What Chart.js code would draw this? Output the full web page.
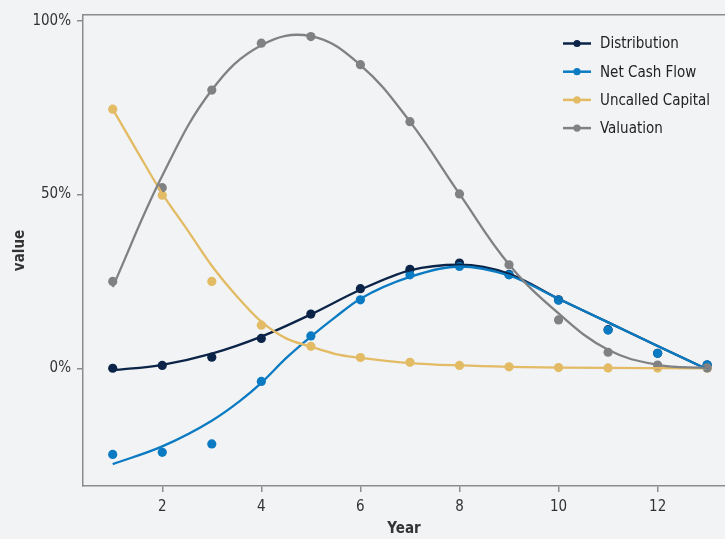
<!DOCTYPE html>
<html>
<head>
<meta charset="utf-8">
<script src="https://cdn.jsdelivr.net/npm/chart.js@4.4.1/dist/chart.umd.min.js"></script>
<style>
  html, body { margin: 0; padding: 0; background: #f2f3f5; }
  #wrap { width: 725px; height: 539px; position: relative; }
</style>
</head>
<body>
<div id="wrap"><canvas id="c"></canvas></div>
<script>
// ---- data (values in %) ----
const years = [1, 2, 3, 4, 5, 6, 7, 8, 9, 10, 11, 12, 13];
const seriesNames = ['Distribution', 'Net Cash Flow', 'Uncalled Capital', 'Valuation'];
// observed points
const distributionPts = [0, 0.8, 3.2, 8.6, 15.6, 22.9, 28.5, 30.3, 27.0, 19.7, 11.1, 4.3, 0.9];
const netCashFlowPts = [-24.8, -24.2, -21.8, -3.8, 9.3, 19.7, 26.9, 29.3, 26.9, 19.6, 11.0, 4.3, 1.0];
const uncalledPts = [74.6, 49.8, 25.0, 12.4, 6.3, 3.1, 1.7, 0.8, 0.4, 0.2, 0.1, 0.05, 0];
const valuationPts = [25.0, 52.0, 80.1, 93.6, 95.5, 87.4, 71.0, 50.2, 29.8, 13.9, 4.6, 0.9, 0.1];
// smoothed (fitted) curves
const distributionFitX = [1, 2, 3, 4, 5, 6, 7, 8, 9, 10, 11, 12, 13];
const distributionFit = [-0.6, 1.0, 4.2, 9.1, 15.5, 22.6, 28.2, 29.8, 27.2, 20.0, 13.2, 6.4, -0.3];
const netCashFlowFitX = [1, 2, 3, 3.57, 4, 4.5, 5, 5.5, 6, 7, 8, 9, 10, 11, 12, 13];
const netCashFlowFit = [-27.6, -22.5, -15.1, -9.4, -4.2, 2.9, 9.1, 14.8, 20.0, 26.3, 29.3, 26.7, 20.0, 13.2, 6.4, -0.3];
const uncalledFitX = [1, 1.5, 2, 2.5, 3, 3.5, 4, 4.5, 5, 5.5, 6, 7, 8, 9, 10, 11, 12, 13];
const uncalledFit = [74.6, 62.3, 50.3, 40.0, 29.5, 20.8, 13.4, 8.6, 6.2, 4.1, 3.0, 1.5, 0.8, 0.4, 0.2, 0.1, 0.05, 0];
const valuationFitX = [1, 2, 3, 4, 5, 6, 7, 8, 9, 10, 11, 12, 13];
const valuationFit = [23.4, 55.4, 80.1, 93.0, 95.6, 87.3, 71.0, 50.2, 29.9, 15.8, 5.3, 1.0, 0.1];
const xTicks = [2, 4, 6, 8, 10, 12];
const yTicks = [0, 50, 100];

const colors = ['#0b2447', '#0a7bc2', '#e2bb64', '#808183'];
const ptsList = [distributionPts, netCashFlowPts, uncalledPts, valuationPts];
const fitXList = [distributionFitX, netCashFlowFitX, uncalledFitX, valuationFitX];
const fitList = [distributionFit, netCashFlowFit, uncalledFit, valuationFit];
const interpModes = ['monotone', 'monotone', 'monotone', 'default'];

const FONT = "'DejaVu Sans Condensed', 'Liberation Sans Narrow', sans-serif";
const AXIS = '#8c8c8c';

const datasets = [];
for (let i = 0; i < 4; i++) {
  datasets.push({
    label: seriesNames[i] + ' points',
    data: years.map((x, k) => ({ x: x, y: ptsList[i][k] })),
    showLine: false,
    pointRadius: 4.6,
    pointHoverRadius: 4.6,
    pointBackgroundColor: colors[i],
    pointBorderWidth: 0,
    borderColor: colors[i],
    order: 8 - i
  });
}
for (let i = 0; i < 4; i++) {
  datasets.push({
    label: seriesNames[i],
    data: fitXList[i].map((x, k) => ({ x: x, y: fitList[i][k] })),
    showLine: true,
    borderColor: colors[i],
    borderWidth: 2.3,
    pointRadius: 0,
    pointHoverRadius: 0,
    cubicInterpolationMode: interpModes[i],
    tension: 0.4,
    fill: false,
    order: 4 - i
  });
}

const bgPlugin = {
  id: 'bg',
  beforeDraw(chart) {
    const ctx = chart.ctx;
    ctx.save();
    ctx.fillStyle = '#f2f3f5';
    ctx.fillRect(0, 0, chart.width, chart.height);
    ctx.restore();
  }
};

const legendPlugin = {
  id: 'customLegend',
  afterDraw(chart) {
    const ctx = chart.ctx;
    const area = chart.chartArea;
    const x0 = 563, lineW = 28, textX = 600;
    const y0 = area.top + 28.5, dy = 28.2;
    ctx.save();
    ctx.font = "15px " + FONT;
    ctx.textBaseline = 'middle';
    ctx.textAlign = 'left';
    for (let i = 0; i < seriesNames.length; i++) {
      const y = y0 + i * dy;
      ctx.strokeStyle = colors[i];
      ctx.lineWidth = 2.5;
      ctx.beginPath();
      ctx.moveTo(x0, y);
      ctx.lineTo(x0 + lineW, y);
      ctx.stroke();
      ctx.fillStyle = colors[i];
      ctx.beginPath();
      ctx.arc(x0 + lineW / 2, y, 3.6, 0, Math.PI * 2);
      ctx.fill();
      ctx.fillStyle = '#222222';
      ctx.fillText(seriesNames[i], textX, y + 1);
    }
    ctx.restore();
  }
};

new Chart(document.getElementById('c'), {
  type: 'scatter',
  data: { datasets: datasets },
  plugins: [bgPlugin, legendPlugin],
  options: {
    responsive: true,
    maintainAspectRatio: false,
    animation: false,
    layout: { autoPadding: false, padding: 0 },
    plugins: {
      legend: { display: false },
      tooltip: { enabled: false }
    },
    scales: {
      x: {
        type: 'linear',
        position: 'bottom',
        min: 0.4,
        max: 13.36,
        afterBuildTicks(scale) { scale.ticks = xTicks.map(v => ({ value: v })); },
        afterFit(scale) { scale.height = 53; },
        grid: { display: true, drawOnChartArea: false, drawTicks: true, tickLength: 6, color: AXIS, lineWidth: 1.5 },
        border: { display: true, color: AXIS, width: 1.5 },
        ticks: { color: '#333333', font: { family: FONT, size: 15 }, padding: 6, maxRotation: 0 },
        title: { display: true, text: 'Year', color: '#333333', font: { family: FONT, size: 15, weight: 'bold' }, padding: { top: 0, bottom: 1 } }
      },
      xTop: {
        type: 'linear',
        position: 'top',
        min: 0.4,
        max: 13.36,
        afterFit(scale) { scale.height = 10; },
        grid: { display: false },
        border: { display: true, color: AXIS, width: 1.5 },
        ticks: { display: false }
      },
      y: {
        type: 'linear',
        min: -33.9,
        max: 101.7,
        afterBuildTicks(scale) { scale.ticks = yTicks.map(v => ({ value: v })); },
        afterFit(scale) { scale.width = 83; },
        grid: { display: true, drawOnChartArea: false, drawTicks: true, tickLength: 6, color: AXIS, lineWidth: 1.5 },
        border: { display: true, color: AXIS, width: 1.5 },
        ticks: { color: '#333333', font: { family: FONT, size: 15 }, padding: 6, callback: v => v + '%' },
        title: { display: true, text: 'value', color: '#333333', font: { family: FONT, size: 15, weight: 'bold' }, padding: { top: 11, bottom: 0 } }
      }
    }
  }
});
</script>
</body>
</html>
